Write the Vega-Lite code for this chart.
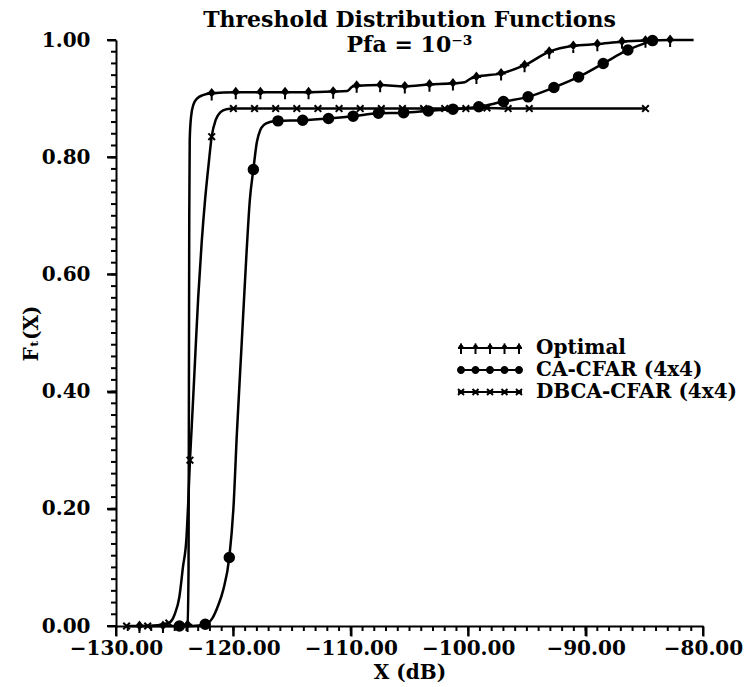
{
  "$schema": "https://vega.github.io/schema/vega-lite/v6.json",
  "width": 587,
  "height": 586,
  "autosize": {"type": "none"},
  "padding": {"left": 116, "top": 40, "right": 47, "bottom": 61},
  "background": "white",
  "config": {
    "view": {"stroke": null},
    "font": "DejaVu Serif",
    "axis": {
      "grid": false,
      "domainColor": "black",
      "domainWidth": 2,
      "tickColor": "black",
      "tickWidth": 2,
      "labelColor": "black",
      "labelFont": "DejaVu Serif",
      "labelFontWeight": "bold",
      "labelFontSize": 20,
      "titleColor": "black",
      "titleFont": "DejaVu Serif",
      "titleFontWeight": "bold",
      "titleFontSize": 20
    }
  },
  "title": {
    "text": "Threshold Distribution Functions",
    "subtitle": "Pfa = 10⁻³",
    "anchor": "middle",
    "frame": "group",
    "offset": -27,
    "font": "DejaVu Serif",
    "fontSize": 22,
    "fontWeight": "bold",
    "color": "black",
    "subtitleFont": "DejaVu Serif",
    "subtitleFontSize": 22,
    "subtitleFontWeight": "bold",
    "subtitleColor": "black",
    "subtitlePadding": 3
  },
  "datasets": {
    "xmajor": [{"v": -130}, {"v": -120}, {"v": -110}, {"v": -100}, {"v": -90}, {"v": -80}],
    "xminor": [{"v":-130},{"v":-129},{"v":-128},{"v":-127},{"v":-126},{"v":-125},{"v":-124},{"v":-123},{"v":-122},{"v":-121},{"v":-120},{"v":-119},{"v":-118},{"v":-117},{"v":-116},{"v":-115},{"v":-114},{"v":-113},{"v":-112},{"v":-111},{"v":-110},{"v":-109},{"v":-108},{"v":-107},{"v":-106},{"v":-105},{"v":-104},{"v":-103},{"v":-102},{"v":-101},{"v":-100},{"v":-99},{"v":-98},{"v":-97},{"v":-96},{"v":-95},{"v":-94},{"v":-93},{"v":-92},{"v":-91},{"v":-90},{"v":-89},{"v":-88},{"v":-87},{"v":-86},{"v":-85},{"v":-84},{"v":-83},{"v":-82},{"v":-81},{"v":-80}],
    "ymajor": [{"v": 0}, {"v": 0.2}, {"v": 0.4}, {"v": 0.6}, {"v": 0.8}, {"v": 1.0}],
    "yminor": [{"v":0},{"v":0.02},{"v":0.04},{"v":0.06},{"v":0.08},{"v":0.1},{"v":0.12},{"v":0.14},{"v":0.16},{"v":0.18},{"v":0.2},{"v":0.22},{"v":0.24},{"v":0.26},{"v":0.28},{"v":0.3},{"v":0.32},{"v":0.34},{"v":0.36},{"v":0.38},{"v":0.4},{"v":0.42},{"v":0.44},{"v":0.46},{"v":0.48},{"v":0.5},{"v":0.52},{"v":0.54},{"v":0.56},{"v":0.58},{"v":0.6},{"v":0.62},{"v":0.64},{"v":0.66},{"v":0.68},{"v":0.7},{"v":0.72},{"v":0.74},{"v":0.76},{"v":0.78},{"v":0.8},{"v":0.82},{"v":0.84},{"v":0.86},{"v":0.88},{"v":0.9},{"v":0.92},{"v":0.94},{"v":0.96},{"v":0.98},{"v":1.0}],
    "curves": [
      {"series": "Optimal", "x": -128.0, "y": 0},
      {"series": "Optimal", "x": -126.0, "y": 0},
      {"series": "Optimal", "x": -124.2, "y": 0},
      {"series": "Optimal", "x": -123.9, "y": 0.002},
      {"series": "Optimal", "x": -123.82, "y": 0.1},
      {"series": "Optimal", "x": -123.79, "y": 0.4},
      {"series": "Optimal", "x": -123.76, "y": 0.7},
      {"series": "Optimal", "x": -123.72, "y": 0.83},
      {"series": "Optimal", "x": -123.6, "y": 0.87},
      {"series": "Optimal", "x": -123.4, "y": 0.89},
      {"series": "Optimal", "x": -123.1, "y": 0.9},
      {"series": "Optimal", "x": -122.6, "y": 0.906},
      {"series": "Optimal", "x": -121.85, "y": 0.909},
      {"series": "Optimal", "x": -119.8, "y": 0.911},
      {"series": "Optimal", "x": -117.7, "y": 0.911},
      {"series": "Optimal", "x": -115.6, "y": 0.911},
      {"series": "Optimal", "x": -113.6, "y": 0.911},
      {"series": "Optimal", "x": -111.5, "y": 0.912},
      {"series": "Optimal", "x": -110.3, "y": 0.913},
      {"series": "Optimal", "x": -109.9, "y": 0.92},
      {"series": "Optimal", "x": -109.5, "y": 0.922},
      {"series": "Optimal", "x": -107.5, "y": 0.923},
      {"series": "Optimal", "x": -105.4, "y": 0.921},
      {"series": "Optimal", "x": -103.3, "y": 0.924},
      {"series": "Optimal", "x": -101.3, "y": 0.926},
      {"series": "Optimal", "x": -100.3, "y": 0.928},
      {"series": "Optimal", "x": -99.8, "y": 0.934},
      {"series": "Optimal", "x": -99.3, "y": 0.937},
      {"series": "Optimal", "x": -97.2, "y": 0.943},
      {"series": "Optimal", "x": -95.2, "y": 0.957},
      {"series": "Optimal", "x": -93.1, "y": 0.98},
      {"series": "Optimal", "x": -91.05, "y": 0.99},
      {"series": "Optimal", "x": -89.0, "y": 0.993},
      {"series": "Optimal", "x": -86.9, "y": 0.997},
      {"series": "Optimal", "x": -84.9, "y": 0.999},
      {"series": "Optimal", "x": -82.8, "y": 1.0},
      {"series": "Optimal", "x": -80.8, "y": 1.0},

      {"series": "CA-CFAR (4x4)", "x": -124.6, "y": 0},
      {"series": "CA-CFAR (4x4)", "x": -123.5, "y": 0},
      {"series": "CA-CFAR (4x4)", "x": -122.4, "y": 0.003},
      {"series": "CA-CFAR (4x4)", "x": -121.8, "y": 0.013},
      {"series": "CA-CFAR (4x4)", "x": -121.3, "y": 0.035},
      {"series": "CA-CFAR (4x4)", "x": -120.86, "y": 0.062},
      {"series": "CA-CFAR (4x4)", "x": -120.35, "y": 0.117},
      {"series": "CA-CFAR (4x4)", "x": -120.0, "y": 0.2},
      {"series": "CA-CFAR (4x4)", "x": -119.7, "y": 0.33},
      {"series": "CA-CFAR (4x4)", "x": -119.3, "y": 0.48},
      {"series": "CA-CFAR (4x4)", "x": -118.9, "y": 0.63},
      {"series": "CA-CFAR (4x4)", "x": -118.6, "y": 0.727},
      {"series": "CA-CFAR (4x4)", "x": -118.3, "y": 0.779},
      {"series": "CA-CFAR (4x4)", "x": -118.0, "y": 0.826},
      {"series": "CA-CFAR (4x4)", "x": -117.7, "y": 0.847},
      {"series": "CA-CFAR (4x4)", "x": -117.4, "y": 0.855},
      {"series": "CA-CFAR (4x4)", "x": -116.9, "y": 0.86},
      {"series": "CA-CFAR (4x4)", "x": -116.2, "y": 0.862},
      {"series": "CA-CFAR (4x4)", "x": -114.1, "y": 0.863},
      {"series": "CA-CFAR (4x4)", "x": -111.9, "y": 0.866},
      {"series": "CA-CFAR (4x4)", "x": -109.8, "y": 0.87},
      {"series": "CA-CFAR (4x4)", "x": -107.65, "y": 0.875},
      {"series": "CA-CFAR (4x4)", "x": -105.5, "y": 0.876},
      {"series": "CA-CFAR (4x4)", "x": -103.4, "y": 0.879},
      {"series": "CA-CFAR (4x4)", "x": -101.3, "y": 0.882},
      {"series": "CA-CFAR (4x4)", "x": -99.1, "y": 0.886},
      {"series": "CA-CFAR (4x4)", "x": -97.0, "y": 0.895},
      {"series": "CA-CFAR (4x4)", "x": -94.9, "y": 0.903},
      {"series": "CA-CFAR (4x4)", "x": -92.7, "y": 0.919},
      {"series": "CA-CFAR (4x4)", "x": -90.6, "y": 0.937},
      {"series": "CA-CFAR (4x4)", "x": -88.5, "y": 0.96},
      {"series": "CA-CFAR (4x4)", "x": -86.4, "y": 0.983},
      {"series": "CA-CFAR (4x4)", "x": -84.3, "y": 0.999},

      {"series": "DBCA-CFAR (4x4)", "x": -129.1, "y": 0},
      {"series": "DBCA-CFAR (4x4)", "x": -127.3, "y": 0},
      {"series": "DBCA-CFAR (4x4)", "x": -125.5, "y": 0.005},
      {"series": "DBCA-CFAR (4x4)", "x": -125.0, "y": 0.02},
      {"series": "DBCA-CFAR (4x4)", "x": -124.6, "y": 0.05},
      {"series": "DBCA-CFAR (4x4)", "x": -124.3, "y": 0.1},
      {"series": "DBCA-CFAR (4x4)", "x": -124.0, "y": 0.15},
      {"series": "DBCA-CFAR (4x4)", "x": -123.85, "y": 0.21},
      {"series": "DBCA-CFAR (4x4)", "x": -123.7, "y": 0.283},
      {"series": "DBCA-CFAR (4x4)", "x": -123.55, "y": 0.34},
      {"series": "DBCA-CFAR (4x4)", "x": -123.3, "y": 0.44},
      {"series": "DBCA-CFAR (4x4)", "x": -123.0, "y": 0.56},
      {"series": "DBCA-CFAR (4x4)", "x": -122.7, "y": 0.655},
      {"series": "DBCA-CFAR (4x4)", "x": -122.4, "y": 0.73},
      {"series": "DBCA-CFAR (4x4)", "x": -122.1, "y": 0.79},
      {"series": "DBCA-CFAR (4x4)", "x": -121.85, "y": 0.835},
      {"series": "DBCA-CFAR (4x4)", "x": -121.5, "y": 0.864},
      {"series": "DBCA-CFAR (4x4)", "x": -121.1, "y": 0.877},
      {"series": "DBCA-CFAR (4x4)", "x": -120.6, "y": 0.882},
      {"series": "DBCA-CFAR (4x4)", "x": -120.0, "y": 0.883},
      {"series": "DBCA-CFAR (4x4)", "x": -118.2, "y": 0.883},
      {"series": "DBCA-CFAR (4x4)", "x": -116.4, "y": 0.883},
      {"series": "DBCA-CFAR (4x4)", "x": -114.6, "y": 0.883},
      {"series": "DBCA-CFAR (4x4)", "x": -112.8, "y": 0.883},
      {"series": "DBCA-CFAR (4x4)", "x": -111.0, "y": 0.883},
      {"series": "DBCA-CFAR (4x4)", "x": -109.2, "y": 0.883},
      {"series": "DBCA-CFAR (4x4)", "x": -107.4, "y": 0.883},
      {"series": "DBCA-CFAR (4x4)", "x": -105.6, "y": 0.883},
      {"series": "DBCA-CFAR (4x4)", "x": -103.8, "y": 0.883},
      {"series": "DBCA-CFAR (4x4)", "x": -102.0, "y": 0.883},
      {"series": "DBCA-CFAR (4x4)", "x": -100.2, "y": 0.883},
      {"series": "DBCA-CFAR (4x4)", "x": -98.4, "y": 0.884},
      {"series": "DBCA-CFAR (4x4)", "x": -96.6, "y": 0.883},
      {"series": "DBCA-CFAR (4x4)", "x": -94.8, "y": 0.883},
      {"series": "DBCA-CFAR (4x4)", "x": -84.9, "y": 0.883}
    ],
    "markers": [
      {"series": "Optimal", "x": -128.0, "y": 0},
      {"series": "Optimal", "x": -126.0, "y": 0},
      {"series": "Optimal", "x": -123.9, "y": 0.002},
      {"series": "Optimal", "x": -121.85, "y": 0.909},
      {"series": "Optimal", "x": -119.8, "y": 0.911},
      {"series": "Optimal", "x": -117.7, "y": 0.911},
      {"series": "Optimal", "x": -115.6, "y": 0.911},
      {"series": "Optimal", "x": -113.6, "y": 0.911},
      {"series": "Optimal", "x": -111.5, "y": 0.912},
      {"series": "Optimal", "x": -109.5, "y": 0.922},
      {"series": "Optimal", "x": -107.5, "y": 0.923},
      {"series": "Optimal", "x": -105.4, "y": 0.921},
      {"series": "Optimal", "x": -103.3, "y": 0.924},
      {"series": "Optimal", "x": -101.3, "y": 0.926},
      {"series": "Optimal", "x": -99.3, "y": 0.937},
      {"series": "Optimal", "x": -97.2, "y": 0.943},
      {"series": "Optimal", "x": -95.2, "y": 0.957},
      {"series": "Optimal", "x": -93.1, "y": 0.98},
      {"series": "Optimal", "x": -91.05, "y": 0.99},
      {"series": "Optimal", "x": -89.0, "y": 0.993},
      {"series": "Optimal", "x": -86.9, "y": 0.997},
      {"series": "Optimal", "x": -84.9, "y": 0.999},
      {"series": "Optimal", "x": -82.8, "y": 1.0},

      {"series": "CA-CFAR (4x4)", "x": -124.6, "y": 0},
      {"series": "CA-CFAR (4x4)", "x": -122.4, "y": 0.003},
      {"series": "CA-CFAR (4x4)", "x": -120.35, "y": 0.117},
      {"series": "CA-CFAR (4x4)", "x": -118.3, "y": 0.779},
      {"series": "CA-CFAR (4x4)", "x": -116.2, "y": 0.862},
      {"series": "CA-CFAR (4x4)", "x": -114.1, "y": 0.863},
      {"series": "CA-CFAR (4x4)", "x": -111.9, "y": 0.866},
      {"series": "CA-CFAR (4x4)", "x": -109.8, "y": 0.87},
      {"series": "CA-CFAR (4x4)", "x": -107.65, "y": 0.875},
      {"series": "CA-CFAR (4x4)", "x": -105.5, "y": 0.876},
      {"series": "CA-CFAR (4x4)", "x": -103.4, "y": 0.879},
      {"series": "CA-CFAR (4x4)", "x": -101.3, "y": 0.882},
      {"series": "CA-CFAR (4x4)", "x": -99.1, "y": 0.886},
      {"series": "CA-CFAR (4x4)", "x": -97.0, "y": 0.895},
      {"series": "CA-CFAR (4x4)", "x": -94.9, "y": 0.903},
      {"series": "CA-CFAR (4x4)", "x": -92.7, "y": 0.919},
      {"series": "CA-CFAR (4x4)", "x": -90.6, "y": 0.937},
      {"series": "CA-CFAR (4x4)", "x": -88.5, "y": 0.96},
      {"series": "CA-CFAR (4x4)", "x": -86.4, "y": 0.983},
      {"series": "CA-CFAR (4x4)", "x": -84.3, "y": 0.999},

      {"series": "DBCA-CFAR (4x4)", "x": -129.1, "y": 0},
      {"series": "DBCA-CFAR (4x4)", "x": -127.3, "y": 0},
      {"series": "DBCA-CFAR (4x4)", "x": -125.5, "y": 0.005},
      {"series": "DBCA-CFAR (4x4)", "x": -123.7, "y": 0.283},
      {"series": "DBCA-CFAR (4x4)", "x": -121.85, "y": 0.835},
      {"series": "DBCA-CFAR (4x4)", "x": -120.0, "y": 0.883},
      {"series": "DBCA-CFAR (4x4)", "x": -118.2, "y": 0.883},
      {"series": "DBCA-CFAR (4x4)", "x": -116.4, "y": 0.883},
      {"series": "DBCA-CFAR (4x4)", "x": -114.6, "y": 0.883},
      {"series": "DBCA-CFAR (4x4)", "x": -112.8, "y": 0.883},
      {"series": "DBCA-CFAR (4x4)", "x": -111.0, "y": 0.883},
      {"series": "DBCA-CFAR (4x4)", "x": -109.2, "y": 0.883},
      {"series": "DBCA-CFAR (4x4)", "x": -107.4, "y": 0.883},
      {"series": "DBCA-CFAR (4x4)", "x": -105.6, "y": 0.883},
      {"series": "DBCA-CFAR (4x4)", "x": -103.8, "y": 0.883},
      {"series": "DBCA-CFAR (4x4)", "x": -102.0, "y": 0.883},
      {"series": "DBCA-CFAR (4x4)", "x": -100.2, "y": 0.883},
      {"series": "DBCA-CFAR (4x4)", "x": -98.4, "y": 0.884},
      {"series": "DBCA-CFAR (4x4)", "x": -96.6, "y": 0.883},
      {"series": "DBCA-CFAR (4x4)", "x": -94.8, "y": 0.883},
      {"series": "DBCA-CFAR (4x4)", "x": -84.9, "y": 0.883}
    ]
  },
  "layer": [
    {
      "data": {"name": "curves"},
      "mark": {"type": "line", "color": "black", "strokeWidth": 2.5, "interpolate": "monotone"},
      "encoding": {
        "x": {
          "field": "x", "type": "quantitative",
          "scale": {"domain": [-130, -80], "nice": false, "zero": false},
          "axis": {
            "orient": "bottom",
            "values": [-130, -120, -110, -100, -90, -80],
            "format": ".2f",
            "ticks": true,
            "tickSize": 10,
            "labelPadding": 2,
            "labelFlush": false,
            "labelOverlap": false,
            "title": "X (dB)",
            "titlePadding": 4
          }
        },
        "y": {
          "field": "y", "type": "quantitative",
          "scale": {"domain": [0, 1], "nice": false, "zero": true},
          "axis": {
            "orient": "left",
            "values": [0, 0.2, 0.4, 0.6, 0.8, 1.0],
            "format": ".2f",
            "ticks": true,
            "tickSize": 9,
            "labelPadding": 17,
            "labelFlush": false,
            "labelOverlap": false,
            "title": "Fₜ(X)",
            "titlePadding": 0
          }
        },
        "detail": {"field": "series"}
      }
    },
    {
      "data": {"name": "xminor"},
      "mark": {"type": "tick", "orient": "vertical", "color": "black", "opacity": 1, "size": 5, "thickness": 2},
      "encoding": {
        "x": {"field": "v", "type": "quantitative", "axis": null},
        "y": {"datum": -0.0043, "type": "quantitative", "axis": null}
      }
    },
    {
      "data": {"name": "xmajor"},
      "mark": {"type": "tick", "orient": "vertical", "color": "black", "opacity": 1, "size": 10, "thickness": 2},
      "encoding": {
        "x": {"field": "v", "type": "quantitative", "axis": null},
        "y": {"datum": -0.0085, "type": "quantitative", "axis": null}
      }
    },
    {
      "data": {"name": "yminor"},
      "mark": {"type": "tick", "orient": "horizontal", "color": "black", "opacity": 1, "size": 5, "thickness": 2},
      "encoding": {
        "y": {"field": "v", "type": "quantitative", "axis": null},
        "x": {"datum": -130.213, "type": "quantitative", "axis": null}
      }
    },
    {
      "data": {"name": "ymajor"},
      "mark": {"type": "tick", "orient": "horizontal", "color": "black", "opacity": 1, "size": 9, "thickness": 2},
      "encoding": {
        "y": {"field": "v", "type": "quantitative", "axis": null},
        "x": {"datum": -130.383, "type": "quantitative", "axis": null}
      }
    },
    {
      "data": {"name": "markers"},
      "mark": {"type": "point", "filled": true, "color": "black", "stroke": "black", "strokeWidth": 2, "size": 90, "opacity": 1},
      "encoding": {
        "x": {"field": "x", "type": "quantitative", "axis": null},
        "y": {"field": "y", "type": "quantitative", "axis": null},
        "shape": {
          "field": "series", "type": "nominal",
          "scale": {
            "domain": ["Optimal", "CA-CFAR (4x4)", "DBCA-CFAR (4x4)"],
            "range": [
              "M-1,0L1,0M0,-0.9L0,1.5M0,-0.8L0.55,-0.1L0,0.6L-0.55,-0.1Z",
              "circle",
              "M-0.7,-0.7L0.7,0.7M-0.7,0.7L0.7,-0.7"
            ]
          },
          "legend": null
        }
      }
    },
    {
      "data": {"name": "markers"},
      "transform": [{"filter": "false"}],
      "mark": {"type": "point", "filled": true, "color": "black", "size": 400, "opacity": 1},
      "encoding": {
        "shape": {
          "field": "series", "type": "nominal",
          "scale": {
            "domain": ["Optimal", "CA-CFAR (4x4)", "DBCA-CFAR (4x4)"],
            "range": [
              "M-3.2,-0.1L3.2,-0.1L3.2,0.1L-3.2,0.1ZM-3,-0.45L-2.8,-0.45L-2.8,0.6L-3,0.6ZM-2.9,-0.5L-2.65,-0.15L-2.9,0.15L-3.15,-0.15ZM-1.55,-0.45L-1.35,-0.45L-1.35,0.6L-1.55,0.6ZM-1.45,-0.5L-1.2,-0.15L-1.45,0.15L-1.7,-0.15ZM-0.1,-0.45L0.1,-0.45L0.1,0.6L-0.1,0.6ZM0,-0.5L0.25,-0.15L0,0.15L-0.25,-0.15ZM1.35,-0.45L1.55,-0.45L1.55,0.6L1.35,0.6ZM1.45,-0.5L1.7,-0.15L1.45,0.15L1.2,-0.15ZM2.8,-0.45L3,-0.45L3,0.6L2.8,0.6ZM2.9,-0.5L3.15,-0.15L2.9,0.15L2.65,-0.15Z",
              "M-3.2,-0.1L3.2,-0.1L3.2,0.1L-3.2,0.1ZM-3.3,0A0.4,0.4 0 1,1 -2.5,0A0.4,0.4 0 1,1 -3.3,0ZM-1.85,0A0.4,0.4 0 1,1 -1.05,0A0.4,0.4 0 1,1 -1.85,0ZM-0.4,0A0.4,0.4 0 1,1 0.4,0A0.4,0.4 0 1,1 -0.4,0ZM1.05,0A0.4,0.4 0 1,1 1.85,0A0.4,0.4 0 1,1 1.05,0ZM2.5,0A0.4,0.4 0 1,1 3.3,0A0.4,0.4 0 1,1 2.5,0Z",
              "M-3.2,-0.1L3.2,-0.1L3.2,0.1L-3.2,0.1ZM-3.13,-0.37L-2.53,0.23L-2.67,0.37L-3.27,-0.23ZM-3.27,0.23L-2.67,-0.37L-2.53,-0.23L-3.13,0.37ZM-1.68,-0.37L-1.08,0.23L-1.22,0.37L-1.82,-0.23ZM-1.82,0.23L-1.22,-0.37L-1.08,-0.23L-1.68,0.37ZM-0.23,-0.37L0.37,0.23L0.23,0.37L-0.37,-0.23ZM-0.37,0.23L0.23,-0.37L0.37,-0.23L-0.23,0.37ZM1.22,-0.37L1.82,0.23L1.68,0.37L1.08,-0.23ZM1.08,0.23L1.68,-0.37L1.82,-0.23L1.22,0.37ZM2.67,-0.37L3.27,0.23L3.13,0.37L2.53,-0.23ZM2.53,0.23L3.13,-0.37L3.27,-0.23L2.67,0.37Z"
            ]
          },
          "legend": {
            "orient": "none",
            "legendX": 364,
            "legendY": 298,
            "title": null,
            "padding": 0,
            "rowPadding": 2,
            "symbolSize": 400,
            "symbolStrokeWidth": 0,
            "symbolFillColor": "black",
            "labelFont": "DejaVu Serif",
            "labelFontWeight": "bold",
            "labelFontSize": 20,
            "labelColor": "black",
            "labelOffset": 36,
            "labelLimit": 400,
            "encode": {
              "symbols": {
                "update": {
                  "fill": {"value": "black"},
                  "fillOpacity": {"value": 1},
                  "opacity": {"value": 1}
                }
              }
            }
          }
        }
      }
    }
  ],
  "resolve": {
    "scale": {"shape": "independent"},
    "axis": {"x": "independent", "y": "independent"}
  }
}
